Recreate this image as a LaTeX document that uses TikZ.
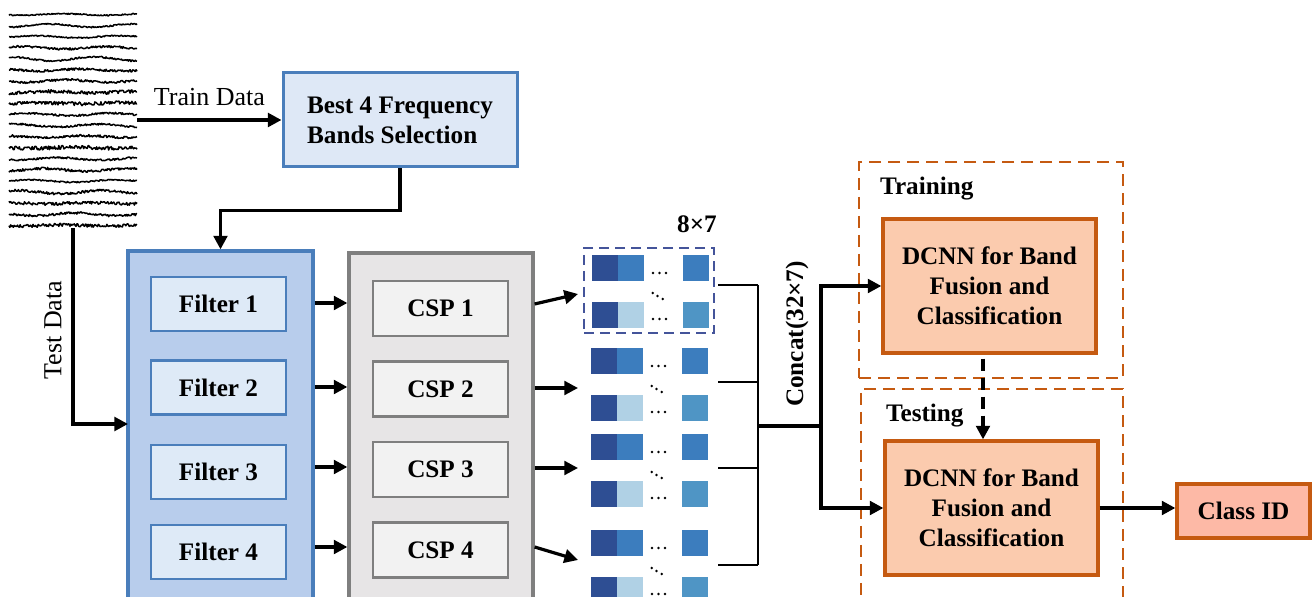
\documentclass[tikz,border=0pt]{standalone}
\usepackage{fontspec}
\setmainfont{Liberation Serif}
\usetikzlibrary{arrows.meta,calc}

\definecolor{blueBorder}{HTML}{4A7EBB}
\definecolor{bestFill}{HTML}{DEE8F6}
\definecolor{filtBig}{HTML}{B8CDEC}
\definecolor{filtSmall}{HTML}{DEEAF7}
\definecolor{cspBorder}{HTML}{7F7F7F}
\definecolor{cspBig}{HTML}{E7E5E6}
\definecolor{cspSmall}{HTML}{F2F2F2}
\definecolor{orangeBorder}{HTML}{C55A11}
\definecolor{dcnnFill}{HTML}{FBCBAE}
\definecolor{clsFill}{HTML}{FDB9A6}
\definecolor{mDark}{HTML}{2E4E93}
\definecolor{mMed}{HTML}{3C7DBE}
\definecolor{mLight}{HTML}{B0D1E5}
\definecolor{mMid}{HTML}{4F95C5}
\definecolor{selBlue}{HTML}{44549A}

\tikzset{
  lbl/.style={font=\fontsize{12.6}{15}\selectfont\bfseries},
  plain/.style={font=\fontsize{13}{15}\selectfont},
  box/.style={rectangle, inner sep=0pt, lbl},
  bestbox/.style={box, draw=blueBorder, fill=bestFill, line width=1.5pt, align=left},
  filterbank/.style={box, draw=blueBorder, fill=filtBig, line width=1.6pt},
  filterbox/.style={box, draw=blueBorder, fill=filtSmall, line width=1.3pt,
    minimum width=67.5pt, minimum height=27pt},
  cspbank/.style={box, draw=cspBorder, fill=cspBig, line width=1.6pt},
  cspbox/.style={box, draw=cspBorder, fill=cspSmall, line width=1.3pt,
    minimum width=67.5pt, minimum height=27.5pt},
  dcnnbox/.style={box, draw=orangeBorder, fill=dcnnFill, line width=1.6pt,
    align=center, minimum width=106.5pt, minimum height=67pt},
  clsbox/.style={box, draw=orangeBorder, fill=clsFill, line width=1.6pt,
    minimum width=66.5pt, minimum height=27pt},
  phasebox/.style={rectangle, draw=orangeBorder, line width=1.4pt,
    dash pattern=on 6pt off 3.5pt},
  selbox/.style={rectangle, draw=selBlue, line width=1.3pt,
    dash pattern=on 5pt off 3pt},
  arr/.style={line width=1.8pt, -{Triangle[length=6.8pt,width=6.8pt]}},
  thinlink/.style={line width=1pt},
  thicklink/.style={line width=2pt},
  eegline/.style={line width=0.75pt, line join=round},
  cell/.style={inner sep=0pt, minimum width=12.8pt, minimum height=13pt},
  fmap/.pic={
    \node[cell, fill=mDark,  anchor=north west] (-a) at (0,0) {};
    \node[cell, fill=mMed,   anchor=north west] (-b) at (25.5,0) {};
    \node[cell, fill=mMed,   anchor=north west] (-c) at (91,0) {};
    \node[cell, fill=mDark,  anchor=north west] (-d) at (0,46.5) {};
    \node[cell, fill=mLight, anchor=north west] (-e) at (25.5,46.5) {};
    \node[cell, fill=mMid,   anchor=north west] (-f) at (91,46.5) {};
    \foreach \dx in {61,67.5,74} {
      \fill (\dx,18) circle (1.4);
      \fill (\dx,64) circle (1.4);
    }
    \fill (60.7,38) circle (1.4);
    \fill (65.5,41) circle (1.4);
    \fill (70.7,44) circle (1.4);
  }
}

\begin{document}
\begin{tikzpicture}[x=0.5pt,y=-0.5pt]
\useasboundingbox (0,0) rectangle (1312,597);
\clip (0,0) rectangle (1312,597);

% ---------- EEG recording ----------
\node[inner sep=0pt, minimum width=64pt, minimum height=108pt] (eeg) at (73,120) {};
\pgfmathsetseed{4217}
\foreach \i/\amp/\wav in {0/0.6/0.8, 1/0.7/1.6, 2/0.7/1.0, 3/1.1/1.2, 4/0.9/2.0,
  5/1.1/1.0, 6/1.2/1.2, 7/1.7/0.8, 8/1.8/0.6, 9/1.0/1.2, 10/1.0/1.4,
  11/1.2/1.0, 12/1.9/0.6, 13/1.0/1.2, 14/1.2/1.4, 15/0.7/1.2, 16/1.2/1.6,
  17/1.5/0.6, 18/1.2/1.4, 19/1.6/0.6} {
  \draw[eegline] plot[domain=9:137, samples=150]
    (\x, {14.5+\i*11.1+\wav*sin(\x*4.3+\i*57)+\amp*rand});
}

% ---------- band selection ----------
\node[bestbox, minimum width=117pt, minimum height=47pt] (best) at (400,120)
  {Best 4 Frequency\\Bands Selection};
\draw[arr] (eeg.east |- best.west) -- node[plain, above=3pt] {Train Data} (best.west);

% ---------- filter bank ----------
\node[filterbank, minimum width=92.5pt, minimum height=184.5pt] (filt) at (220.5,435.5) {};
\node[filterbox] (f1) at (218.5,304) {Filter 1};
\node[filterbox] (f2) at (218.5,387.5) {Filter 2};
\node[filterbox] (f3) at (218.5,472) {Filter 3};
\node[filterbox] (f4) at (218.5,552) {Filter 4};

\draw[arr] (best.south) -- ++(0,42) -| (filt.north);

\coordinate (tin) at (128,424);
\draw[arr] (eeg.south) |- (tin);
\node[plain, rotate=90] (testlbl) at (53,330) {Test Data};

% ---------- CSP bank ----------
\node[cspbank, minimum width=92pt, minimum height=183.5pt] (csp) at (441,436.5) {};
\node[cspbox] (c1) at (440.5,308.5) {CSP 1};
\node[cspbox] (c2) at (440.5,389) {CSP 2};
\node[cspbox] (c3) at (440.5,469.5) {CSP 3};
\node[cspbox] (c4) at (440.5,550) {CSP 4};

\draw[arr] (filt.east |- 0,303) -- (csp.west |- 0,303);
\draw[arr] (filt.east |- 0,387) -- (csp.west |- 0,387);
\draw[arr] (filt.east |- 0,467) -- (csp.west |- 0,467);
\draw[arr] (filt.east |- 0,547) -- (csp.west |- 0,547);

% ---------- CSP feature maps ----------
\pic (g1) at (592,255) {fmap};
\pic (g2) at (591,348) {fmap};
\pic (g3) at (591,434) {fmap};
\pic (g4) at (591,530) {fmap};
\node[selbox, minimum width=65pt, minimum height=42.5pt] (sel) at (649,290.5) {};
\node[lbl] (dimlbl) at (697,224) {8×7};

\coordinate (t1) at (578,294);
\coordinate (t2) at (578,388);
\coordinate (t3) at (578,468);
\coordinate (t4) at (578,560);
\draw[arr, line width=1.6pt] (csp.east |- 0,304) -- (t1);
\draw[arr, line width=1.6pt] (csp.east |- 0,388) -- (t2);
\draw[arr, line width=1.6pt] (csp.east |- 0,468) -- (t3);
\draw[arr, line width=1.6pt] (csp.east |- 0,547) -- (t4);

% ---------- concatenation ----------
\coordinate (o1) at (718,285);
\coordinate (o2) at (718,382);
\coordinate (o3) at (718,468);
\coordinate (o4) at (718,565);
\coordinate (j) at (758,426);
\coordinate (k) at (821,426);
\draw[thinlink] (o1) -- (o1 -| j);
\draw[thinlink] (o2) -- (o2 -| j);
\draw[thinlink] (o3) -- (o3 -| j);
\draw[thinlink] (o4) -- (o4 -| j);
\draw[thinlink] (o1 -| j) -- (o4 -| j);
\draw[thicklink] (j) -- (k);
\node[lbl, rotate=90] (catlbl) at (797,334) {Concat(32×7)};

% ---------- training / testing ----------
\node[phasebox, minimum width=132pt, minimum height=108pt] (trainreg) at (991,270) {};
\node[phasebox, minimum width=131pt, minimum height=125.5pt] (testreg) at (992,514.5) {};
\node[lbl, anchor=west] (trainlbl) at (873,189) {Training};
\node[lbl, anchor=west] (testlbl2) at (879,416) {Testing};

\node[dcnnbox] (dtrain) at (989.5,286) {DCNN for Band\\Fusion and\\Classification};
\node[dcnnbox] (dtest) at (991.5,508) {DCNN for Band\\Fusion and\\Classification};
\node[clsbox] (cls) at (1243.5,511) {Class ID};

\draw[arr] (k) |- (dtrain.west);
\draw[arr] (k) |- (dtest.west);
\draw[arr, line width=2pt, dash pattern=on 6pt off 3.5pt, shorten <=2pt]
  ([xshift=-3.25pt]dtrain.south) -- ([xshift=-3.25pt]dtrain.south |- dtest.north);
\draw[arr] (dtest.east) -- (dtest.east -| cls.west);
\end{tikzpicture}
\end{document}
